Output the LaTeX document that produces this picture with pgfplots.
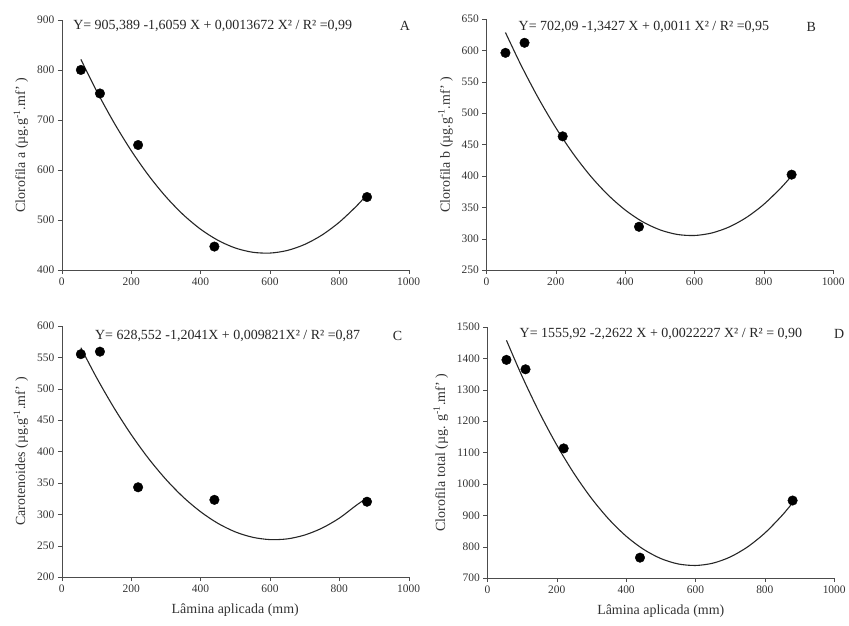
\documentclass[border=0pt]{standalone}
\usepackage{fontspec}
\setmainfont{Liberation Serif}
\usepackage{pgfplots}
\pgfplotsset{compat=1.18}

\pgfplotsset{
  panel/.style={
    width=348pt, height=251pt, scale only axis,
    axis lines*=left, axis line style={black!70,-},
    tick style={black!70}, tick align=outside, major tick length=4pt,
    xmin=0, xmax=1000, xtick={0,200,...,1000},
    /pgf/number format/assume math mode=true,
    /pgf/number format/set thousands separator={},
    tick label style={font=\fontsize{11.5}{12}\selectfont, text=black!80},
    label style={font=\fontsize{14}{16}\selectfont, text=black!80},
    xlabel style={yshift=-5pt},
    ylabel style={yshift=2pt},
    clip=false,
  },
  fitline/.style={black!85, line width=1.1pt, smooth, no marks},
  pts/.style={only marks, mark=*, mark size=4.8pt, black},
}
\tikzset{eq/.style={anchor=west, font=\fontsize{14}{16}\selectfont, text=black!85}}

\begin{document}
\begin{tikzpicture}
\path (0pt,0pt) rectangle (849pt,628pt);

% A
\begin{axis}[panel, at={(62pt,357pt)}, anchor=south west,
  ymin=400, ymax=900, ytick={400,500,...,900},
  ylabel={Clorofila a (µg.g\textsuperscript{-1}.mf' )}]
\addplot[fitline] coordinates {(55,821.2) (100,758.5) (150,695.3) (200,638.9) (250,589.4) (300,546.7) (350,510.8) (400,481.8) (450,459.6) (500,444.2) (550,435.7) (600,434.0) (650,439.2) (700,451.2) (750,470.0) (800,495.7) (850,528.2) (880,551.0)};
\addplot[pts] coordinates {(55,800) (110,753) (220,650) (440,447) (880,546)};
\node[eq] at (axis cs:23,888) {Y= 905,389 -1,6059 X + 0,0013672 X² / R² =0,99};
\node[eq, anchor=center] at (axis cs:989,888) {A};
\end{axis}

% B
\begin{axis}[panel, at={(488pt,357pt)}, anchor=south west, height=252pt,
  ymin=250, ymax=650, ytick={250,300,...,650},
  ylabel={Clorofila b (µg.g\textsuperscript{-1}.mf' )}]
\addplot[fitline] coordinates {(55,628.4) (100,576.3) (150,523.8) (200,476.9) (250,435.6) (300,400.0) (350,370.1) (400,345.8) (450,327.1) (500,314.2) (550,306.8) (600,305.1) (650,309.1) (700,318.7) (750,333.9) (800,354.8) (850,381.4) (880,400.0)};
\addplot[pts] coordinates {(55,596) (110,612) (220,463) (440,319) (880,402)};
\node[eq] at (axis cs:83,637) {Y= 702,09 -1,3427 X + 0,0011 X² / R² =0,95};
\node[eq, anchor=center] at (axis cs:937,637) {B};
\end{axis}

% C
\begin{axis}[panel, at={(62pt,49pt)}, anchor=south west, height=252pt,
  ymin=200, ymax=600, ytick={200,250,...,600},
  xlabel={Lâmina aplicada (mm)},
  ylabel={Carotenoides (µg.g\textsuperscript{-1}.mf' )}]
\addplot[fitline] coordinates {(55,565.3) (100,517.9) (150,470.0) (200,427.0) (250,388.9) (300,355.7) (350,327.4) (400,304.1) (450,285.6) (500,272.0) (550,263.4) (600,259.7) (650,260.8) (700,266.9) (750,277.9) (800,293.8) (850,314.7) (880,326.0)};
\addplot[pts] coordinates {(55,555) (110,559) (220,343) (440,323) (880,320)};
\node[eq] at (axis cs:86,584) {Y= 628,552 -1,2041X + 0,009821X² / R² =0,87};
\node[eq, anchor=center] at (axis cs:968,584) {C};
\end{axis}

% D
\begin{axis}[panel, at={(489pt,48pt)}, anchor=south west, height=252pt,
  ymin=700, ymax=1500, ytick={700,800,...,1500},
  xlabel={Lâmina aplicada (mm)},
  ylabel={Clorofila total (µg. g\textsuperscript{-1}.mf' )}]
\addplot[fitline] coordinates {(55,1457.3) (100,1342.8) (150,1227.1) (200,1123.8) (250,1032.8) (300,954.1) (350,887.7) (400,833.5) (450,791.7) (500,762.2) (550,745.0) (600,740.1) (650,747.4) (700,767.1) (750,799.1) (800,843.4) (850,900.0) (880,939.8)};
\addplot[pts] coordinates {(55,1395) (110,1365) (220,1113) (440,765) (880,947)};
\node[eq] at (axis cs:83,1478) {Y= 1555,92 -2,2622 X + 0,0022227 X² / R² = 0,90};
\node[eq, anchor=center] at (axis cs:1014,1478) {D};
\end{axis}
\end{tikzpicture}
\end{document}
